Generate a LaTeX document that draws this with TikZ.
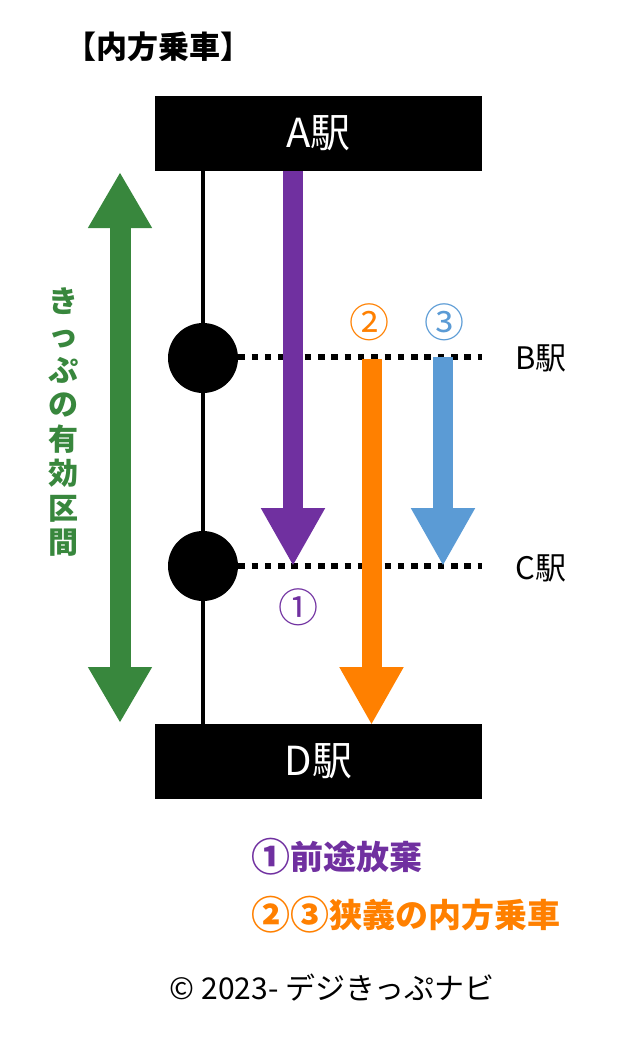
\documentclass[tikz,border=0pt]{standalone}
\usepackage{fontspec}
\setmainfont{Noto Sans CJK JP}
\usepackage{tikz}
\usetikzlibrary{arrows.meta, positioning}

% bigger circled digits
\newcommand{\circnum}[1]{\raisebox{-2.5pt}{\fontsize{39}{36}\selectfont #1}}

\begin{document}
\begin{tikzpicture}[x=1pt, y=-1pt, >=Latex]
    % Define styles
    \tikzset{
        station/.style={fill=black, text=white, minimum width=327pt, minimum height=75pt, inner sep=0pt, font=\fontsize{40}{42}\selectfont},
        stop/.style={circle, fill=black, minimum size=70pt, inner sep=0pt},
        track/.style={line width=4pt},
        platform/.style={line width=6pt, dash pattern=on 6.5pt off 6.8pt},
        bigarrow/.style={line width=20pt, -{Triangle[width=60pt, length=58pt]}},
        stname/.style={font=\fontsize{31}{33}\selectfont, anchor=west},
        numlabel/.style={font=\fontsize{40}{42}\selectfont},
        legend/.style={font=\fontsize{33}{36}\selectfont\bfseries, anchor=west},
    }
    % Define colors
    \definecolor{farpurple}{RGB}{112,48,160}
    \definecolor{narroworange}{RGB}{255,128,0}
    \definecolor{narrowblue}{RGB}{91,155,213}
    \definecolor{validgreen}{RGB}{56,135,61}

    \useasboundingbox (0,0) rectangle (640,1058);

    % Title
    \node[anchor=west, font=\fontsize{31}{33}\selectfont\bfseries] (title) at (62,47) {【内方乗車】};

    % Stations
    \node[station] (A) at (318.5,133.5) {A駅};
    \node[station] (D) at (318.5,761) {D駅};
    \draw[track] (203,171) -- (203,724);
    \node[stop] (B) at (203,358) {};
    \node[stop] (C) at (203,566) {};
    \draw[platform] (B.east) ++(0,-1) -- (482,357);
    \draw[platform] (C.east) -- (482,566);
    \node[stname] (Blabel) at (512,358) {B駅};
    \node[stname] (Clabel) at (512,568) {C駅};

    % Ticket span
    \coordinate (gtop) at (120,172);
    \coordinate (gbot) at (120,723);
    \draw[line width=21pt, validgreen, {Triangle[width=60pt, length=56pt]}-{Triangle[width=60pt, length=56pt]}] (gtop) -- (gbot);
    \node[text=validgreen, align=center, font=\fontsize{30}{34.5}\selectfont\bfseries] (span) at (63,422) {き\\っ\\ぷ\\の\\有\\効\\区\\間};

    % Arrows
    \coordinate (p1) at (293,171);
    \coordinate (p2) at (293,566);
    \coordinate (o1) at (371.5,359);
    \coordinate (o2) at (371.5,725);
    \coordinate (b1) at (443,357);
    \coordinate (b2) at (443,566);
    \draw[bigarrow, farpurple] (p1) -- (p2);
    \draw[bigarrow, narroworange] (o1) -- (o2);
    \draw[bigarrow, narrowblue] (b1) -- (b2);
    \node[numlabel, text=farpurple] (m1) at (298,607) {①};
    \node[numlabel, text=narroworange] (m2) at (369,322) {②};
    \node[numlabel, text=narrowblue] (m3) at (444,322) {③};

    % Legend
    \node[legend, text=farpurple] (leg1) at (248,857) {\circnum{①}前途放棄};
    \node[legend, text=narroworange] (leg2) at (248,915) {\circnum{②③}狭義の内方乗車};

    % Credit
    \node[font=\fontsize{30}{32}\selectfont] (credit) at (332,988) {© 2023- デジきっぷナビ};
\end{tikzpicture}
\end{document}
